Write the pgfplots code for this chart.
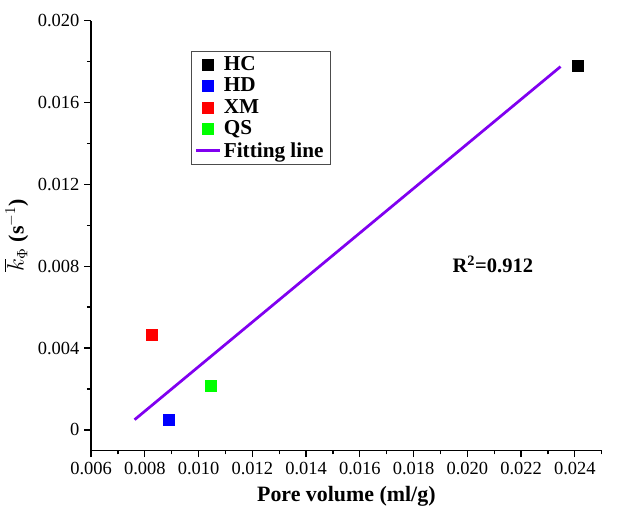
\documentclass[border=0pt]{standalone}
\usepackage{pgfplots}
\pgfplotsset{compat=1.18}
\usepackage{fontspec}
\setmainfont{Liberation Serif}
\definecolor{fitc}{RGB}{128,0,240}
\definecolor{greenq}{RGB}{0,255,0}
\newcommand{\rfont}{\fontsize{15}{18}\selectfont\bfseries}
\begin{document}
\begin{tikzpicture}
\begin{axis}[
  scale only axis,
  width=373pt, height=314pt,
  xmin=0.006, xmax=0.025, ymin=-0.001, ymax=0.020,
  axis x line*=bottom, axis y line*=left,
  axis line style={line width=0.9pt},
  xtick={0.006,0.008,0.010,0.012,0.014,0.016,0.018,0.020,0.022,0.024},
  minor xtick={0.007,0.009,0.011,0.013,0.015,0.017,0.019,0.021,0.023,0.025},
  ytick={0,0.004,0.008,0.012,0.016,0.020},
  minor ytick={0.002,0.006,0.010,0.014,0.018},
  xticklabels={0.006,0.008,0.010,0.012,0.014,0.016,0.018,0.020,0.022,0.024},
  yticklabels={0,0.004,0.008,0.012,0.016,0.020},
  scaled ticks=false,
  tick align=outside,
  major tick length=5pt, minor tick length=3pt,
  every tick/.style={line width=0.9pt},
  ticklabel style={font=\fontsize{13.5}{15}\selectfont},
  xlabel={\textbf{Pore volume (ml/g)}},
  ylabel={$\overline{k}_{\Phi}$ \textbf{(s$^{-1}$)}},
  xlabel style={font=\fontsize{16}{18}\selectfont, yshift=-2pt},
  ylabel style={font=\fontsize{16}{18}\selectfont},
  legend style={at={(0.195,0.93)}, anchor=north west, draw=black!70,
    font=\fontsize{15.5}{20}\selectfont\bfseries},
  legend cell align=left,
]
\addplot[only marks, mark=square*, mark size=4pt, draw=black, fill=black]
  coordinates {(0.0241,0.0178)};
\addlegendentry{HC}
\addplot[only marks, mark=square*, mark size=4pt, draw=blue, fill=blue]
  coordinates {(0.00888,0.0005)};
\addlegendentry{HD}
\addplot[only marks, mark=square*, mark size=4pt, draw=red, fill=red]
  coordinates {(0.00827,0.00467)};
\addlegendentry{XM}
\addplot[only marks, mark=square*, mark size=4pt, draw=greenq, fill=greenq]
  coordinates {(0.01044,0.00215)};
\addlegendentry{QS}
\addplot[fitc, line width=2pt, no marks] coordinates {(0.00762,0.0005) (0.02347,0.01775)};
\addlegendentry{Fitting line}
\node at (axis cs:0.02095,0.0081) {\rfont R\textsuperscript{2}=0.912};
\end{axis}
\path ([xshift=28pt]current axis.east);
\path ([yshift=15pt]current axis.north);
\end{tikzpicture}
\end{document}
